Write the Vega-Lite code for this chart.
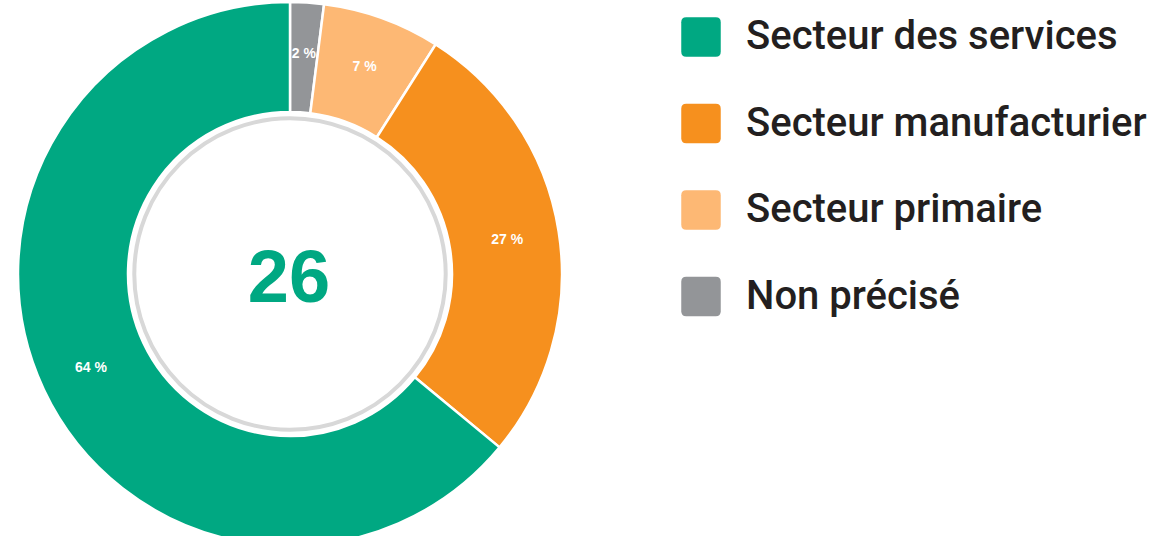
{
  "$schema": "https://vega.github.io/schema/vega-lite/v6.json",
  "width": 1150,
  "height": 536,
  "autosize": {"type": "none"},
  "padding": 0,
  "background": "white",
  "config": {"view": {"stroke": null}},
  "data": {
    "values": [
      {"secteur": "Non précisé", "part": 2, "ordre": 1, "etiquette": "2 %"},
      {"secteur": "Secteur primaire", "part": 7, "ordre": 2, "etiquette": "7 %"},
      {"secteur": "Secteur manufacturier", "part": 27, "ordre": 3, "etiquette": "27 %"},
      {"secteur": "Secteur des services", "part": 64, "ordre": 4, "etiquette": "64 %"}
    ]
  },
  "layer": [
    {
      "mark": {"type": "arc", "x": 290, "y": 274, "outerRadius": 272, "innerRadius": 162, "stroke": "white", "strokeWidth": 2.5},
      "encoding": {
        "theta": {"field": "part", "type": "quantitative", "stack": true},
        "order": {"field": "ordre", "type": "quantitative"},
        "color": {
          "field": "secteur",
          "type": "nominal",
          "scale": {
            "domain": ["Secteur des services", "Secteur manufacturier", "Secteur primaire", "Non précisé"],
            "range": ["#00a882", "#f6901e", "#fdb874", "#939598"]
          },
          "legend": {
            "orient": "none",
            "legendX": 681,
            "legendY": 17,
            "title": null,
            "symbolType": "M -1 -0.75 Q -1 -1 -0.75 -1 L 0.75 -1 Q 1 -1 1 -0.75 L 1 0.75 Q 1 1 0.75 1 L -0.75 1 Q -1 1 -1 0.75 Z",
            "symbolSize": 1560,
            "symbolStrokeWidth": 0,
            "symbolOpacity": 1,
            "labelFontSize": 40,
            "labelFont": "Roboto, Liberation Sans, sans-serif",
            "labelFontWeight": 500,
            "labelColor": "#231f20",
            "labelOffset": 25,
            "rowPadding": 46.5,
            "labelLimit": 600
          }
        }
      }
    },
    {
      "mark": {"type": "text", "x": 290, "y": 274, "radius": 220, "fontSize": 14, "fontWeight": "bold", "fill": "white", "font": "Liberation Sans, sans-serif"},
      "encoding": {
        "theta": {"field": "part", "type": "quantitative", "stack": true},
        "order": {"field": "ordre", "type": "quantitative"},
        "detail": {"field": "secteur", "type": "nominal"},
        "text": {"field": "etiquette", "type": "nominal"}
      }
    },
    {
      "data": {"values": [{"total": "26"}]},
      "layer": [
        {
          "mark": {"type": "point", "x": 290, "y": 274, "shape": "circle", "size": 97000, "filled": true, "fill": "white", "stroke": "#d8d8d8", "strokeWidth": 4, "opacity": 1}
        },
        {
          "mark": {"type": "text", "x": 289, "y": 274, "dy": 28, "baseline": "alphabetic", "fontSize": 74, "fontWeight": "bold", "fill": "#00a882", "font": "Liberation Sans, sans-serif"},
          "encoding": {"text": {"field": "total", "type": "nominal"}}
        }
      ]
    }
  ]
}
